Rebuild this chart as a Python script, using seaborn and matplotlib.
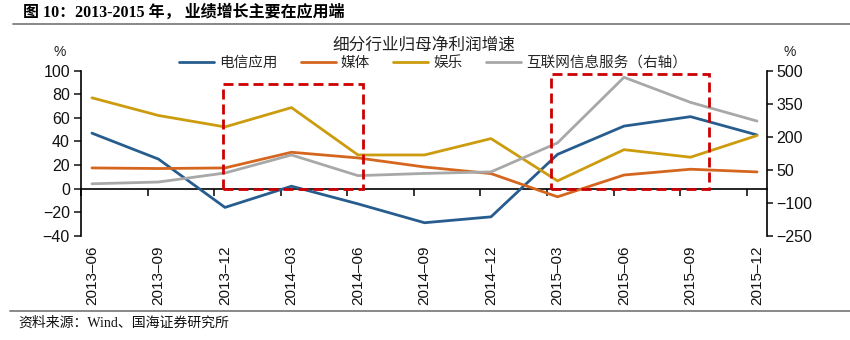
import numpy as np
import pandas as pd
import matplotlib
matplotlib.use("Agg")
import matplotlib.pyplot as plt
import seaborn as sns
from matplotlib.patches import Rectangle
from matplotlib.lines import Line2D

# ---------------- data ----------------
quarters = ["2013-06", "2013-09", "2013-12", "2014-03", "2014-06", "2014-09",
            "2014-12", "2015-03", "2015-06", "2015-09", "2015-12"]
telecom = [47, 25, -16, 2, -13, -29, -24, 29, 53, 61, 45.5]
media = [17.5, 17, 17.5, 30.8, 26, 18.3, 12.7, -7, 11.5, 16.4, 14.1]
entertainment = [77, 62, 52.3, 68.7, 28.5, 28.5, 42.4, 6.5, 33, 26.6, 45]
internet = [-14, -6, 35, 117, 23, 33, 40, 172, 470, 356, 271]

left_ticks = [-40, -20, 0, 20, 40, 60, 80, 100]
right_ticks = [-250, -100, 50, 200, 350, 500]
names = ["电信应用", "媒体", "娱乐", "互联网信息服务（右轴）"]
colors = ["#275D8E", "#D5661F", "#CC9C0E", "#A8A8A8"]

# ---------------- style ----------------
sns.set_theme(style="ticks")
plt.rcParams["font.family"] = ["Liberation Sans", "Noto Sans CJK SC", "DejaVu Sans"]
plt.rcParams["axes.unicode_minus"] = True

W, H = 850, 340
fig = plt.figure(figsize=(W / 100, H / 100), dpi=100)
fig.patch.set_facecolor("white")

ax = fig.add_axes([81 / W, 1 - 235.7 / H, (767 - 81) / W, 165 / H])
ax.set_facecolor("white")

pos = np.arange(len(quarters))
df_left = pd.DataFrame({
    "pos": np.tile(pos, 3),
    "value": telecom + media + entertainment,
    "series": np.repeat(names[:3], len(quarters)),
})
df_right = pd.DataFrame({"pos": pos, "value": internet})

sns.lineplot(data=df_left, x="pos", y="value", hue="series", hue_order=names[:3],
             palette=colors[:3], lw=2, ax=ax, legend=False, estimator=None, sort=False)

ax2 = ax.twinx()
sns.lineplot(data=df_right, x="pos", y="value", color=colors[3], lw=2, ax=ax2,
             estimator=None, sort=False)

# axes limits & ticks
xlim = (-0.165, 10.15)
ax.set_xlim(*xlim)
ax.set_ylim(-40, 100)
ax.set_yticks(left_ticks)
ax2.set_ylim(-250, 500)
ax2.set_yticks(right_ticks)
for a in (ax, ax2):
    a.set_xlabel("")
    a.set_ylabel("")
    a.grid(False)

ax.set_xticks(pos)
ax.set_xticklabels([q.replace("-", "–") for q in quarters], rotation=90,
                   fontsize=11, color="#111111")
ax.tick_params(axis="x", length=0, pad=7)
ax.tick_params(axis="y", length=5, width=1.1, direction="out", pad=3,
               labelsize=11.5, colors="#111111")
ax2.tick_params(axis="y", length=4, width=1.1, direction="out", pad=3,
                labelsize=11.5, colors="#111111")

for s in ["top", "right", "bottom"]:
    ax.spines[s].set_visible(False)
ax.spines["left"].set_color("black")
ax.spines["left"].set_linewidth(1.2)
for s in ["top", "left", "bottom"]:
    ax2.spines[s].set_visible(False)
ax2.spines["right"].set_color("black")
ax2.spines["right"].set_linewidth(1.2)

# zero line with category-boundary tick marks
sec = ax.secondary_xaxis(40 / 140)
sec.set_xticks(pos - 0.158)
sec.tick_params(axis="x", length=5, width=1.1, direction="out",
                labelbottom=False, labeltop=False, colors="black")
for s in sec.spines.values():
    s.set_color("black")
    s.set_linewidth(1.2)

# red dashed highlight boxes
for (x0, x1, ytop) in [(1.97, 4.07, 88.5), (6.90, 9.28, 97)]:
    r = Rectangle((x0, 0), x1 - x0, ytop, fill=False, ec="#CC0000", lw=2.0,
                  ls=(0, (3.6, 1.8)), transform=ax.transData, clip_on=False, zorder=10)
    ax2.add_artist(r)

# legend
handles = [Line2D([], [], color=c, lw=2) for c in colors]
fig.legend(handles, names, loc="center", bbox_to_anchor=(433 / W, 1 - 63 / H),
           ncol=4, frameon=False, handlelength=2.4, handletextpad=0.35,
           columnspacing=1.6, prop={"family": ["Noto Sans CJK SC"], "size": 10.5})

# texts
fig.text(424 / W, 1 - 45 / H, "细分行业归母净利润增速", ha="center", va="center",
         fontsize=12, family=["Noto Sans CJK SC"], color="#222222")
fig.text(60 / W, 1 - 52 / H, "%", ha="center", va="center", fontsize=10, color="#222222")
fig.text(790 / W, 1 - 52 / H, "%", ha="center", va="center", fontsize=10, color="#222222")

fig.text(23 / W, 1 - 13 / H, "图 10：2013-2015 年， 业绩增长主要在应用端",
         ha="left", va="center", fontsize=11.5, fontweight="bold",
         family=["Liberation Serif", "Noto Sans CJK SC"], color="black")
fig.add_artist(Line2D([13 / W, 1], [1 - 24 / H] * 2, transform=fig.transFigure,
                      color="#7F7F7F", lw=1.3))
fig.add_artist(Line2D([10 / W, 1], [1 - 311 / H] * 2, transform=fig.transFigure,
                      color="#7F7F7F", lw=1.3))
fig.text(18 / W, 1 - 323 / H, "资料来源：Wind、国海证券研究所", ha="left", va="center",
         fontsize=10, family=["Liberation Serif", "Noto Sans CJK SC"], color="#111111")

fig.savefig("out.png", dpi=100, facecolor="white")
